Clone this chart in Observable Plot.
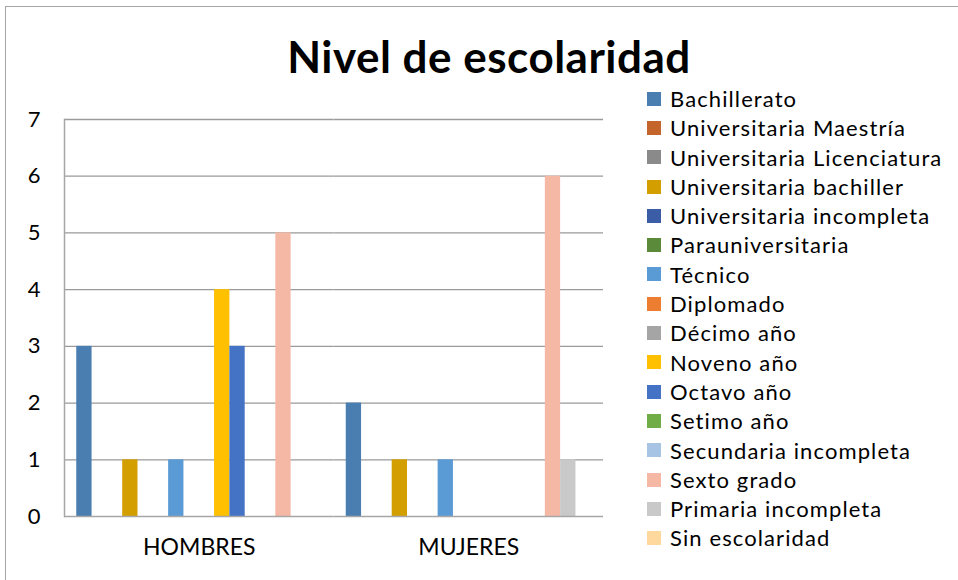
<!DOCTYPE html>
<html>
<head>
<meta charset="utf-8">
<script src="https://cdn.jsdelivr.net/npm/d3@7"></script>
<script src="https://cdn.jsdelivr.net/npm/@observablehq/plot@0.6"></script>
<style>
  html, body { margin: 0; padding: 0; background: #fff; }
  #wrap { position: relative; width: 958px; height: 580px; overflow: hidden; font-family: Lato, "Open Sans", sans-serif; }
  #border { position: absolute; left: 5px; top: 6px; width: 2000px; height: 2000px; border-top: 1.5px solid #a6a6a6; border-left: 1.5px solid #a6a6a6; }
  #title { position: absolute; left: 0; top: 30px; width: 978px; text-align: center; font-weight: bold; font-size: 44px; letter-spacing: 0.5px; color: #000; }
  #chart { position: absolute; left: 0; top: 0; }
  #legend { position: absolute; left: 647px; top: 84px; font-size: 22px; letter-spacing: 1.1px; color: #000; }
  .row { height: 29.3px; line-height: 29.3px; white-space: nowrap; display: flex; align-items: center; }
  .sw { width: 14px; height: 14px; margin-right: 9px; flex: none; }
</style>
</head>
<body>
<div id="wrap">
  <div id="border"></div>
  <div id="title">Nivel de escolaridad</div>
  <div id="chart"></div>
  <div id="legend"></div>
</div>
<script>
const groups = ["HOMBRES", "MUJERES"];
const series = [
  "Bachillerato", "Universitaria Maestría", "Universitaria Licenciatura", "Universitaria bachiller",
  "Universitaria incompleta", "Parauniversitaria", "Técnico", "Diplomado", "Décimo año",
  "Noveno año", "Octavo año", "Setimo año", "Secundaria incompleta", "Sexto grado",
  "Primaria incompleta", "Sin escolaridad"
];
const colors = [
  "#4a7eb0", "#c4662b", "#8a8a8a", "#d39f00", "#3a5da6", "#5a8a3a", "#5b9bd5", "#ed7d31",
  "#a5a5a5", "#ffc000", "#4472c4", "#70ad47", "#a8c4e5", "#f4b8a4", "#c9c9c9", "#ffd89e"
];
const hombres = [3, 0, 0, 1, 0, 0, 1, 0, 0, 4, 3, 0, 0, 5, 0, 0];
const mujeres = [2, 0, 0, 1, 0, 0, 1, 0, 0, 0, 0, 0, 0, 6, 1, 0];
const yTicks = [0, 1, 2, 3, 4, 5, 6, 7];

const data = [];
series.forEach((s, i) => {
  data.push({group: groups[0], series: s, value: hombres[i]});
  data.push({group: groups[1], series: s, value: mujeres[i]});
});

const chart = Plot.plot({
  width: 958,
  height: 580,
  marginLeft: 64,
  marginRight: 355,
  marginTop: 119,
  marginBottom: 64,
  style: {fontFamily: "Lato, 'Open Sans', sans-serif", background: "transparent", overflow: "visible"},
  fx: {domain: groups, padding: 0, round: false, label: null},
  x: {domain: series, paddingInner: 0, paddingOuter: 0.8, round: false, axis: null},
  y: {domain: [0, 7], axis: null},
  color: {domain: series, range: colors},
  marks: [
    Plot.ruleY(yTicks.filter(d => d > 0), {stroke: "#9a9a9a", strokeWidth: 1.3}),
    Plot.barY(data.filter(d => d.value > 0), {fx: "group", x: "series", y: "value", fill: "series"}),
    Plot.frame({anchor: "left", facetAnchor: "left", stroke: "#a6a6a6", strokeWidth: 1.5}),
    Plot.ruleY([0], {stroke: "#a6a6a6", strokeWidth: 1.5}),
    Plot.axisY(yTicks, {tickSize: 0, tickPadding: 24, tickFormat: "d", fill: "#000", fontSize: 22, label: null}),
    Plot.axisFx({anchor: "bottom", tickSize: 0, tickPadding: 22, fontSize: 23, fill: "#000", label: null})
  ]
});
document.getElementById("chart").appendChild(chart);

const legend = document.getElementById("legend");
series.forEach((s, i) => {
  const row = document.createElement("div");
  row.className = "row";
  const sw = document.createElement("span");
  sw.className = "sw";
  sw.style.background = colors[i];
  const t = document.createElement("span");
  t.textContent = s;
  row.appendChild(sw);
  row.appendChild(t);
  legend.appendChild(row);
});
</script>
</body>
</html>
